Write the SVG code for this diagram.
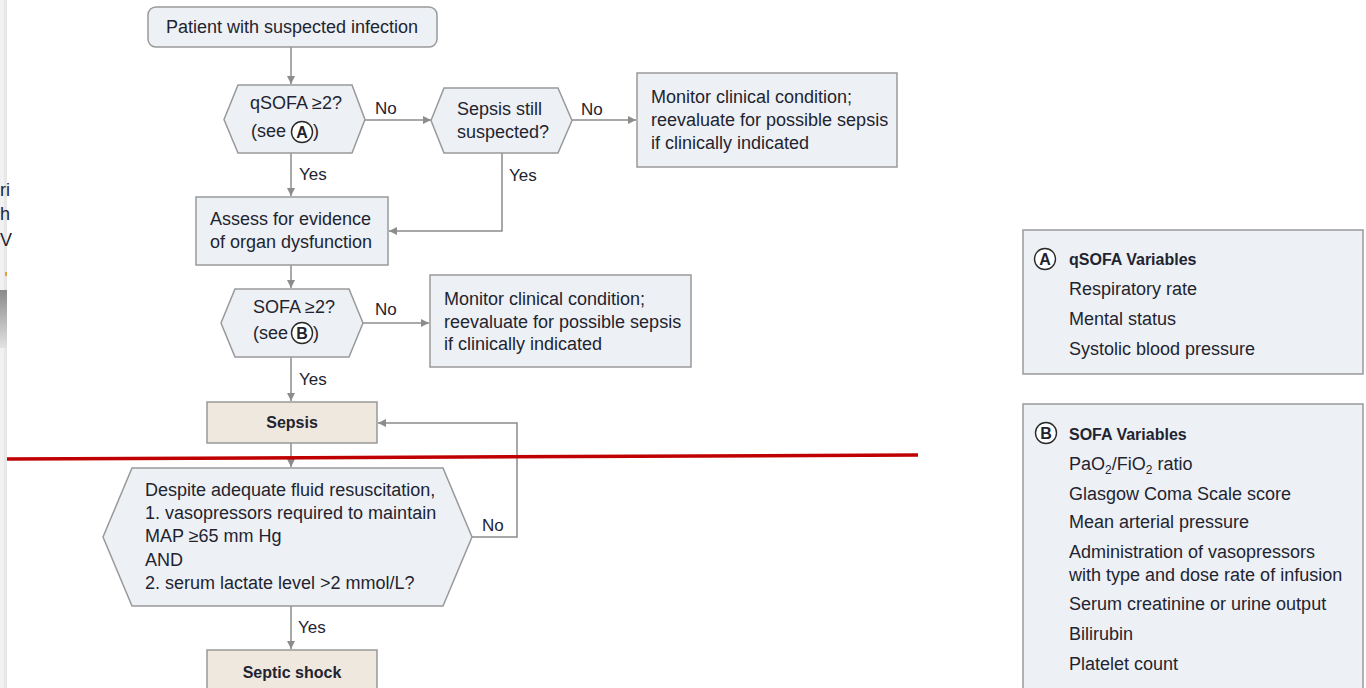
<svg xmlns="http://www.w3.org/2000/svg" width="1366" height="688" viewBox="0 0 1366 688">
  <style>
    .box { fill: #edf1f5; stroke: #999; stroke-width: 1.5; }
    .tan { fill: #efe8df; stroke: #999; stroke-width: 1.5; }
    .t { font-family: "Liberation Sans", Arial, sans-serif; font-size: 18px; fill: #1f2430; }
    .b { font-family: "Liberation Sans", Arial, sans-serif; font-size: 16px; font-weight: bold; fill: #1f2430; }
    .lbl { font-family: "Liberation Sans", Arial, sans-serif; font-size: 17px; fill: #1f2430; }
    .key { fill: #fff; stroke: #2a2a2a; stroke-width: 1.4; }
    .keyt { font-family: "Liberation Sans", Arial, sans-serif; font-size: 16px; font-weight: bold; fill: #1f2430; text-anchor: middle; }
    .c { fill: none; stroke: #8c8c8c; stroke-width: 1.5; }
    .sub { font-size: 12px; }
  </style>
  <defs>
    <marker id="arrow" viewBox="0 0 10 10" refX="10" refY="5" markerWidth="8" markerHeight="8" markerUnits="userSpaceOnUse" orient="auto">
      <path d="M0,0 L10,5 L0,10 z" fill="#8c8c8c"/>
    </marker>
    <linearGradient id="edgeShade" x1="0" y1="0" x2="0" y2="1">
      <stop offset="0" stop-color="#8a8a8a"/>
      <stop offset="1" stop-color="#e2e2e2"/>
    </linearGradient>
  </defs>

  <rect width="1366" height="688" fill="#fff"/>

  <!-- window edge on the left -->
  <g id="edge">
    <rect x="0" y="0" width="4" height="688" fill="#f1f1f1"/>
    <rect x="4" y="0" width="3" height="688" fill="#e7e7e7"/>
    <rect x="0" y="290" width="7" height="58" fill="url(#edgeShade)"/>
    <text class="t" x="0" y="196" font-size="16">ri</text>
    <text class="t" x="0" y="220" font-size="16">h</text>
    <text class="t" x="0" y="246" font-size="16">V</text>
    <rect x="5" y="272" width="2" height="4" fill="#e0a040"/>
  </g>

  <!-- connectors -->
  <g id="connectors">
    <path class="c" d="M291,47 V84" marker-end="url(#arrow)"/>
    <path class="c" d="M365,120 H431" marker-end="url(#arrow)"/>
    <path class="c" d="M572,120 H636" marker-end="url(#arrow)"/>
    <path class="c" d="M502,153 V231 H389" marker-end="url(#arrow)"/>
    <path class="c" d="M291,153 V196" marker-end="url(#arrow)"/>
    <path class="c" d="M291,265 V288" marker-end="url(#arrow)"/>
    <path class="c" d="M363,323 H429" marker-end="url(#arrow)"/>
    <path class="c" d="M291,357 V401" marker-end="url(#arrow)"/>
    <path class="c" d="M291,443 V467" marker-end="url(#arrow)"/>
    <path class="c" d="M472,537 H517 V423 H378" marker-end="url(#arrow)"/>
    <path class="c" d="M291,606 V649" marker-end="url(#arrow)"/>
    <text class="lbl" x="375" y="114">No</text>
    <text class="lbl" x="581" y="115">No</text>
    <text class="lbl" x="509" y="181">Yes</text>
    <text class="lbl" x="299" y="180">Yes</text>
    <text class="lbl" x="375" y="315">No</text>
    <text class="lbl" x="299" y="385">Yes</text>
    <text class="lbl" x="482" y="531">No</text>
    <text class="lbl" x="298" y="633">Yes</text>
  </g>

  <!-- divider -->
  <line x1="7" y1="459" x2="918" y2="455" stroke="#c00000" stroke-width="3.5"/>

  <g id="start">
    <rect class="box" x="148" y="7" width="289" height="40" rx="8"/>
    <text class="t" x="292" y="33" text-anchor="middle">Patient with suspected infection</text>
  </g>

  <g id="qsofa">
    <polygon class="box" points="224,119.5 238,85 352,85 365,119.5 352,153 238,153"/>
    <text class="t" x="250" y="109">qSOFA ≥2?</text>
    <text class="t" x="251" y="137">(see</text>
    <circle class="key" cx="302" cy="132" r="10.5"/>
    <text class="keyt" x="302" y="138">A</text>
    <text class="t" x="313" y="137">)</text>
  </g>

  <g id="still-suspected">
    <polygon class="box" points="431,120.5 444,88 558,88 572,120.5 558,153 444,153"/>
    <text class="t" x="457" y="115">Sepsis still</text>
    <text class="t" x="457" y="138">suspected?</text>
  </g>

  <g id="monitor-1">
    <rect class="box" x="637" y="73" width="260" height="94"/>
    <text class="t" x="651" y="103">Monitor clinical condition;</text>
    <text class="t" x="651" y="126">reevaluate for possible sepsis</text>
    <text class="t" x="651" y="149">if clinically indicated</text>
  </g>

  <g id="assess">
    <rect class="box" x="196" y="197" width="192" height="68"/>
    <text class="t" x="210" y="225">Assess for evidence</text>
    <text class="t" x="210" y="248">of organ dysfunction</text>
  </g>

  <g id="sofa">
    <polygon class="box" points="221,323 235,289 349,289 363,323 349,357 235,357"/>
    <text class="t" x="253" y="313">SOFA ≥2?</text>
    <text class="t" x="253" y="339">(see</text>
    <circle class="key" cx="302" cy="333" r="10.5"/>
    <text class="keyt" x="302" y="339">B</text>
    <text class="t" x="313" y="339">)</text>
  </g>

  <g id="monitor-2">
    <rect class="box" x="430" y="275" width="261" height="92"/>
    <text class="t" x="444" y="305">Monitor clinical condition;</text>
    <text class="t" x="444" y="328">reevaluate for possible sepsis</text>
    <text class="t" x="444" y="350">if clinically indicated</text>
  </g>

  <g id="sepsis">
    <rect class="tan" x="207" y="402" width="170" height="41"/>
    <text class="b" x="292" y="428" text-anchor="middle">Sepsis</text>
  </g>

  <g id="shock-criteria">
    <polygon class="box" points="103,537 132,468 443,468 472,537 443,606 132,606"/>
    <text class="t" x="145" y="496">Despite adequate fluid resuscitation,</text>
    <text class="t" x="145" y="519">1. vasopressors required to maintain</text>
    <text class="t" x="145" y="542">MAP ≥65 mm Hg</text>
    <text class="t" x="145" y="566">AND</text>
    <text class="t" x="145" y="589">2. serum lactate level &gt;2 mmol/L?</text>
  </g>

  <g id="septic-shock">
    <rect class="tan" x="207" y="650" width="170" height="45"/>
    <text class="b" x="292" y="678" text-anchor="middle">Septic shock</text>
  </g>

  <g id="legend-a">
    <rect class="box" x="1023" y="230" width="340" height="144"/>
    <circle class="key" cx="1045" cy="259" r="10.5"/>
    <text class="keyt" x="1045" y="265">A</text>
    <text class="b" x="1069" y="265">qSOFA Variables</text>
    <text class="t" x="1069" y="295">Respiratory rate</text>
    <text class="t" x="1069" y="325">Mental status</text>
    <text class="t" x="1069" y="355">Systolic blood pressure</text>
  </g>

  <g id="legend-b">
    <rect class="box" x="1023" y="404" width="340" height="300"/>
    <circle class="key" cx="1046" cy="433" r="10.5"/>
    <text class="keyt" x="1046" y="439">B</text>
    <text class="b" x="1069" y="440">SOFA Variables</text>
    <text class="t" x="1069" y="470">PaO<tspan class="sub" dy="4">2</tspan><tspan dy="-4">/FiO</tspan><tspan class="sub" dy="4">2</tspan><tspan dy="-4"> ratio</tspan></text>
    <text class="t" x="1069" y="500">Glasgow Coma Scale score</text>
    <text class="t" x="1069" y="528">Mean arterial pressure</text>
    <text class="t" x="1069" y="558">Administration of vasopressors</text>
    <text class="t" x="1069" y="581">with type and dose rate of infusion</text>
    <text class="t" x="1069" y="610">Serum creatinine or urine output</text>
    <text class="t" x="1069" y="640">Bilirubin</text>
    <text class="t" x="1069" y="670">Platelet count</text>
  </g>
</svg>
